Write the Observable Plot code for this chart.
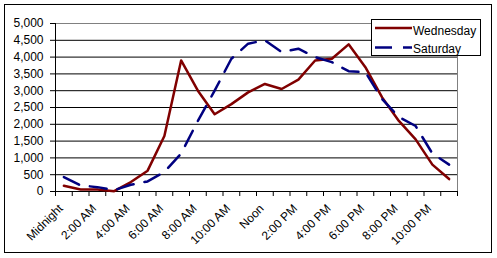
<!DOCTYPE html>
<html><head><meta charset="utf-8">
<script src="https://cdn.jsdelivr.net/npm/d3@7"></script>
<script src="https://cdn.jsdelivr.net/npm/@observablehq/plot@0.6"></script>
<style>
body{margin:0;background:#fff;}
#wrap{position:relative;width:497px;height:258px;font-family:"Liberation Sans",Arial,sans-serif;}
#border{position:absolute;left:4px;top:4px;width:488px;height:249px;border:1px solid #000;box-sizing:border-box;pointer-events:none;}
#legend{position:absolute;left:371px;top:19px;width:110px;height:37px;border:1px solid #000;background:#fff;box-sizing:border-box;overflow:visible;}
#legend svg{display:block;overflow:visible;}
</style>
</head><body>
<div id="wrap"><div id="chart"></div><div id="border"></div><div id="legend"></div></div>
<script>
const categories = ["Midnight","1:00 AM","2:00 AM","3:00 AM","4:00 AM","5:00 AM","6:00 AM","7:00 AM","8:00 AM","9:00 AM","10:00 AM","11:00 AM","Noon","1:00 PM","2:00 PM","3:00 PM","4:00 PM","5:00 PM","6:00 PM","7:00 PM","8:00 PM","9:00 PM","10:00 PM","11:00 PM"];
const wednesday = [170, 60, 60, 10, 280, 620, 1650, 3900, 3000, 2300, 2600, 2950, 3200, 3050, 3330, 3900, 3950, 4380, 3700, 2800, 2100, 1550, 800, 370];
const saturday = [430, 180, 130, 40, 200, 300, 580, 1130, 2100, 3000, 3950, 4400, 4500, 4150, 4250, 4000, 3850, 3580, 3550, 2750, 2220, 1950, 1130, 800];
const yTicks = [0, 500, 1000, 1500, 2000, 2500, 3000, 3500, 4000, 4500, 5000];
const seriesNames = ["Wednesday", "Saturday"];
const seriesColors = ["#800000", "#000080"];

const rows = categories.map((c, i) => ({i, c, wed: wednesday[i], sat: saturday[i]}));
const labelIdx = categories.map((c, i) => i).filter(i => i % 2 === 0);
const font = '"Liberation Sans", Arial, sans-serif';

const chart = Plot.plot({
  width: 497, height: 258,
  marginLeft: 55, marginRight: 40, marginTop: 23, marginBottom: 67,
  style: {fontFamily: font, fontSize: "12px", color: "#000", background: "transparent", overflow: "visible"},
  x: {type: "linear", domain: [0, categories.length]},
  y: {domain: [0, 5000]},
  marks: [
    Plot.ruleY(yTicks.slice(1, -1), {stroke: "#000", strokeOpacity: 1}),
    Plot.frame({stroke: "#808080"}),
    Plot.ruleY([0], {stroke: "#000"}),
    Plot.ruleX([0], {stroke: "#000"}),
    Plot.axisY({ticks: yTicks, tickSize: 5, tickPadding: 7, tickFormat: d3.format(","), label: null}),
    Plot.axisX({ticks: d3.range(0, categories.length + 1), tickSize: 5, tickFormat: () => "", label: null}),
    Plot.axisX({ticks: labelIdx.map(i => i + 0.5), tickSize: 0, tickPadding: 15, dx: -3, tickRotate: -45,
      tickFormat: d => categories[Math.floor(d)], label: null}),
    Plot.line(rows, {x: d => d.i + 0.5, y: "wed", stroke: seriesColors[0], strokeWidth: 2.5, strokeLinejoin: "round"}),
    Plot.line(rows, {x: d => d.i + 0.5, y: "sat", stroke: seriesColors[1], strokeWidth: 2.5, strokeDasharray: "17,11", strokeLinejoin: "round"})
  ]
});
document.getElementById("chart").appendChild(chart);

// legend
const lg = d3.select("#legend").append("svg").attr("width", 108).attr("height", 35)
  .style("font-family", font).style("font-size", "12px");
const ly = [8, 27.5];
const ty = [15, 32.5];
seriesNames.forEach((n, k) => {
  lg.append("line").attr("x1", 3).attr("x2", 40).attr("y1", ly[k]).attr("y2", ly[k])
    .attr("stroke", seriesColors[k]).attr("stroke-width", 2.5)
    .attr("stroke-dasharray", k === 1 ? "17,11" : null);
  lg.append("text").attr("x", 41).attr("y", ty[k]).attr("fill", "#000").text(n);
});
</script>
</body></html>
